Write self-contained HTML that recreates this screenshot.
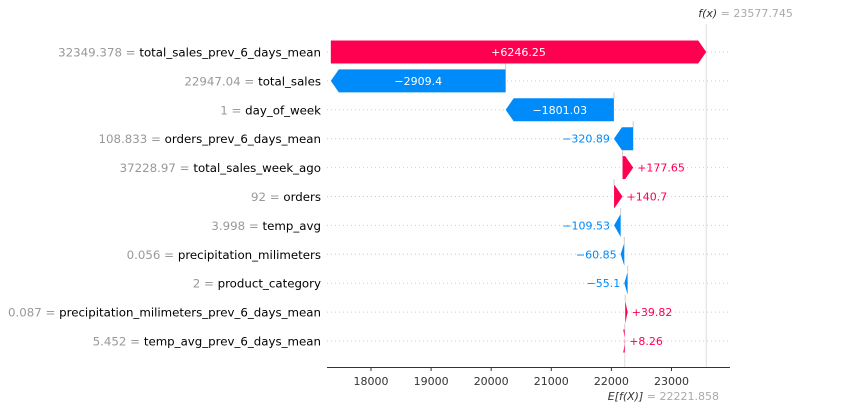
<!DOCTYPE html>
<html><head><meta charset="utf-8"><style>
body{margin:0;background:#fff;}
svg text{font-family:"DejaVu Sans","Liberation Sans",sans-serif;}
</style></head><body>
<svg id="chart" width="865" height="413" xmlns="http://www.w3.org/2000/svg"></svg>
<script>
const featureValues = ["32349.378","22947.04","1","108.833","37228.97","92","3.998","0.056","2","0.087","5.452"];
const featureNames = ["total_sales_prev_6_days_mean","total_sales","day_of_week","orders_prev_6_days_mean","total_sales_week_ago","orders","temp_avg","precipitation_milimeters","product_category","precipitation_milimeters_prev_6_days_mean","temp_avg_prev_6_days_mean"];
const shapValues = [6246.25,-2909.4,-1801.03,-320.89,177.65,140.7,-109.53,-60.85,-55.1,39.82,8.26];
const shapLabels = ["+6246.25","\u22122909.4","\u22121801.03","\u2212320.89","+177.65","+140.7","\u2212109.53","\u221260.85","\u221255.1","+39.82","+8.26"];
const baseValue = 22221.858;
const fxValue = 23577.745;
const xTicks = [18000,19000,20000,21000,22000,23000];

const svg = document.getElementById('chart');
const NS = 'http://www.w3.org/2000/svg';
const X = v => 371 + (v - 18000) * 0.0601;
const Y = i => 52 + i * 28.9;
function mk(tag, attrs, parent){const e=document.createElementNS(NS,tag);for(const k in attrs)e.setAttribute(k,attrs[k]);(parent||svg).appendChild(e);return e;}

for(let i=0;i<featureNames.length;i++){
  const g=mk('line',{x1:327,x2:730,y1:Y(i),y2:Y(i),stroke:'#ccc','stroke-width':1,'stroke-dasharray':'1,3'});
  
  
}
const fl=mk('line',{x1:X(fxValue),x2:X(fxValue),y1:24,y2:367,stroke:'#ddd','stroke-width':1});


const el=mk('line',{x1:X(baseValue),x2:X(baseValue),y1:Y(featureNames.length-1),y2:367,stroke:'#ddd','stroke-width':1});



let cum = baseValue;
const starts = new Array(shapValues.length);
for(let i=shapValues.length-1;i>=0;i--){starts[i]=cum;cum+=shapValues[i];}
for(let i=0;i<shapValues.length;i++){
  const v=shapValues[i], a=starts[i], b=a+v, pos=v>0;
  const x0=X(a), x1=X(b), w=Math.abs(x1-x0), y=Y(i), hh=11.5;
  const h=Math.min(8,Math.max(w,2));
  const color=pos?'#ff0051':'#008bfb';
  let pts;
  if(pos) pts=[[x0,y-hh],[x1-h,y-hh],[x1,y],[x1-h,y+hh],[x0,y+hh]];
  else pts=[[x0,y-hh],[x1+h,y-hh],[x1,y],[x1+h,y+hh],[x0,y+hh]];
  if(i>0){
    const c=mk('line',{x1:x0,x2:x0,y1:Y(i-1)+hh,y2:y-hh,stroke:'#ccc','stroke-width':1});
    
    
  }
  const p=mk('polygon',{points:pts.map(q=>q.join(',')).join(' '),fill:color});
  
  
  let t;
  if(w>60){
    t=mk('text',{x:(x0+x1)/2,y:y+4,'text-anchor':'middle','font-size':11,fill:'#fff'});
  } else if(pos){
    t=mk('text',{x:x1+4,y:y+4,'text-anchor':'start','font-size':11,fill:color});
  } else {
    t=mk('text',{x:x1-4,y:y+4,'text-anchor':'end','font-size':11,fill:color});
  }
  t.textContent=shapLabels[i];
  
  
  const ft=mk('text',{x:321,y:y+4.5,'text-anchor':'end','font-size':11.8});
  
  
  const s1=mk('tspan',{fill:'#999'},ft);s1.textContent=featureValues[i]+' = ';
  const s2=mk('tspan',{fill:'#000'},ft);s2.textContent=featureNames[i];
}
const ax=mk('line',{x1:327,x2:730,y1:367.5,y2:367.5,stroke:'#333','stroke-width':1});


xTicks.forEach(v=>{
  const tk=mk('line',{x1:X(v),x2:X(v),y1:367.5,y2:371,stroke:'#333'});
  
  
  const tl=mk('text',{x:X(v),y:385,'text-anchor':'middle','font-size':11,fill:'#333'});
  tl.textContent=String(v);
  
  
});
const eT=mk('text',{x:X(baseValue)-17,y:400,'text-anchor':'start','font-size':11});


const e1=mk('tspan',{fill:'#333','font-style':'italic'},eT);e1.textContent='E[f(X)]';
const e2=mk('tspan',{fill:'#aaa'},eT);e2.textContent=' = '+baseValue.toFixed(3);
const fT=mk('text',{x:X(fxValue)-8,y:17,'text-anchor':'start','font-size':11});


const f1=mk('tspan',{fill:'#333','font-style':'italic'},fT);f1.textContent='f(x)';
const f2=mk('tspan',{fill:'#aaa'},fT);f2.textContent=' = '+fxValue.toFixed(3);
</script>
</body></html>
